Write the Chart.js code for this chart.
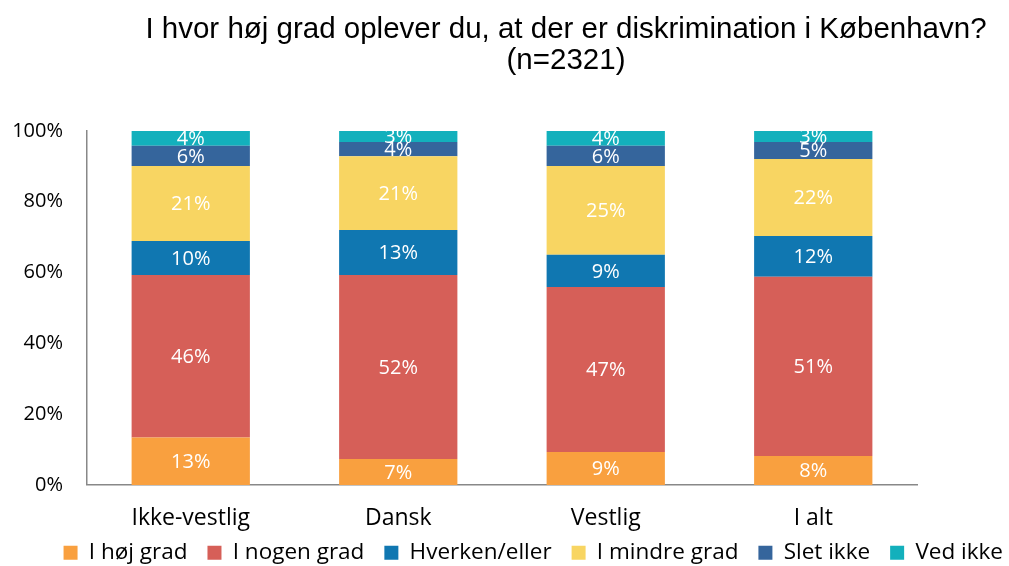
<!DOCTYPE html>
<html>
<head>
<meta charset="utf-8">
<script src="https://cdn.jsdelivr.net/npm/chart.js@4"></script>
<style>
  html, body { margin: 0; padding: 0; background: #fff; }
  #wrap { width: 1009px; height: 566px; }
</style>
</head>
<body>
<div id="wrap"><canvas id="chart" width="1009" height="566"></canvas></div>
<script>
// Data (share in %)
const categories = ['Ikke-vestlig', 'Dansk', 'Vestlig', 'I alt'];
const seriesNames = ['I høj grad', 'I nogen grad', 'Hverken/eller', 'I mindre grad', 'Slet ikke', 'Ved ikke'];
const hojGrad    = [13.4, 7.3, 9.3, 8.2];
const nogenGrad  = [45.9, 52.0, 46.6, 50.6];
const hverken    = [9.6, 12.7, 9.1, 11.5];
const mindreGrad = [21.2, 20.9, 25.1, 21.8];
const sletIkke   = [5.7, 4.0, 5.7, 4.8];
const vedIkke    = [4.2, 3.1, 4.2, 3.1];
const yTicks = [0, 20, 40, 60, 80, 100];
const titleLines = ['I hvor høj grad oplever du, at der er diskrimination i København?', '(n=2321)'];

const colors = ['#F9A03F', '#D65F58', '#1077B1', '#F8D562', '#35659C', '#13B0BC'];
const allSeries = [hojGrad, nogenGrad, hverken, mindreGrad, sletIkke, vedIkke];

const baseFont = "'Open Sans', 'Noto Sans', sans-serif";
const legendLift = 31;  // legend sits closer to the axis labels than chart.js would put it
const legendNudge = 14; // and a little further right

// title drawn by hand so it can sit off-centre like the original
const titlePlugin = {
    id: 'titlePlugin',
    afterDraw(chart) {
        const ctx = chart.ctx;
        ctx.save();
        ctx.fillStyle = '#000';
        ctx.font = "29.5px 'Liberation Sans', Arial, sans-serif";
        ctx.textAlign = 'center';
        ctx.textBaseline = 'middle';
        ctx.fillText(titleLines[0], 566, 30);
        ctx.fillText(titleLines[1], 566, 61);
        ctx.restore();
    }
};

// move the legend into place
const legendShift = {
    id: 'legendShift',
    afterUpdate(chart) {
        const lg = chart.legend;
        if (!lg || lg._shifted) return;
        const orig = lg.draw.bind(lg);
        lg.draw = function (area) {
            const c = chart.ctx;
            c.save();
            c.translate(legendNudge, -legendLift);
            orig(area);
            c.restore();
        };
        lg._shifted = true;
    }
};

// value labels in the middle of each segment
const segmentLabels = {
    id: 'segmentLabels',
    afterDatasetsDraw(chart) {
        const ctx = chart.ctx;
        ctx.save();
        ctx.fillStyle = '#ffffff';
        ctx.font = "20px " + baseFont;
        ctx.textAlign = 'center';
        ctx.textBaseline = 'middle';
        chart.data.datasets.forEach((ds, i) => {
            const meta = chart.getDatasetMeta(i);
            meta.data.forEach((bar, j) => {
                const p = bar.getProps(['x', 'y', 'base'], true);
                ctx.fillText(Math.round(ds.data[j]) + '%', p.x, (p.y + p.base) / 2 + 1);
            });
        });
        ctx.restore();
    }
};

const ctx = document.getElementById('chart').getContext('2d');
new Chart(ctx, {
    type: 'bar',
    data: {
        labels: categories,
        datasets: allSeries.map((vals, i) => ({
            label: seriesNames[i],
            data: vals,
            backgroundColor: colors[i],
            borderWidth: 0,
            categoryPercentage: 0.57,
            barPercentage: 1.0
        }))
    },
    options: {
        responsive: false,
        animation: false,
        layout: { padding: { left: 0, right: 0, top: 131, bottom: -39 } },
        scales: {
            x: {
                stacked: true,
                grid: { display: false, drawTicks: false },
                border: { color: '#888', width: 1.5 },
                ticks: { color: '#000', font: { family: baseFont, size: 23 }, padding: 20 }
            },
            y: {
                stacked: true,
                min: 0,
                max: 100,
                afterBuildTicks: axis => { axis.ticks = yTicks.map(v => ({ value: v })); },
                afterFit: axis => { axis.width = 87; },
                grid: { display: false, drawTicks: false },
                border: { color: '#888', width: 1.5 },
                ticks: {
                    color: '#000',
                    font: { family: baseFont, size: 20 },
                    padding: 24,
                    callback: v => v + '%'
                }
            },
            // empty right axis, only keeps the plot off the right edge
            yRight: {
                position: 'right',
                display: true,
                afterFit: axis => { axis.width = 92; },
                grid: { display: false, drawTicks: false },
                border: { display: false },
                ticks: { display: false }
            }
        },
        plugins: {
            title: { display: false },
            legend: {
                position: 'bottom',
                align: 'end',
                labels: {
                    color: '#000',
                    font: { family: baseFont, size: 22.5 },
                    boxWidth: 14,
                    boxHeight: 14,
                    padding: 20
                }
            },
            tooltip: { enabled: false }
        }
    },
    plugins: [segmentLabels, titlePlugin, legendShift]
});
</script>
</body>
</html>
